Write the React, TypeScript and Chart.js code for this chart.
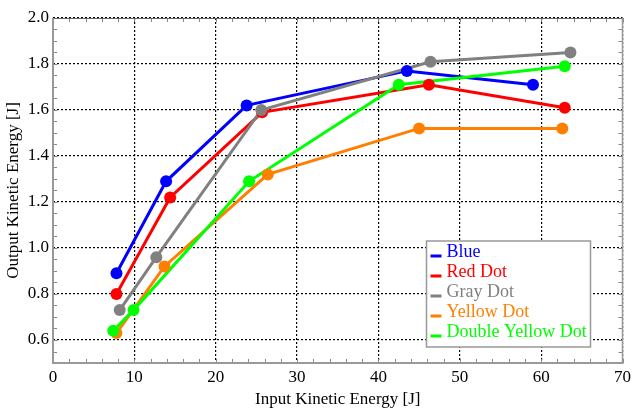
import React, { useEffect, useRef } from "react";
import { Chart, registerables } from "chart.js";

Chart.register(...registerables);

const seriesNames = ["Blue", "Red Dot", "Gray Dot", "Yellow Dot", "Double Yellow Dot"];
const seriesColors = ["#0000ff", "#ff0000", "#808080", "#ff8000", "#00ff00"];

const blueX = [7.8, 13.9, 23.8, 43.5, 59.0];
const blueY = [0.89, 1.29, 1.62, 1.77, 1.71];
const redX = [7.8, 14.4, 25.7, 46.2, 62.9];
const redY = [0.8, 1.22, 1.59, 1.71, 1.61];
const grayX = [8.2, 12.7, 25.6, 46.4, 63.6];
const grayY = [0.73, 0.96, 1.6, 1.81, 1.85];
const yellowX = [7.8, 13.7, 26.4, 45.0, 62.6];
const yellowY = [0.63, 0.92, 1.32, 1.52, 1.52];
const doubleX = [7.4, 9.9, 24.1, 42.5, 62.9];
const doubleY = [0.64, 0.73, 1.29, 1.71, 1.79];

const xTicks = [0, 10, 20, 30, 40, 50, 60, 70];
const yTicks = [0.6, 0.8, 1.0, 1.2, 1.4, 1.6, 1.8, 2.0];
const xMinorStep = 2;
const yMinorStep = 0.05;
const xMin = 0, xMax = 70, yMin = 0.5, yMax = 2.0;

const FONT = "'Liberation Serif', 'Times New Roman', serif";

const allX = [blueX, redX, grayX, yellowX, doubleX];
const allY = [blueY, redY, grayY, yellowY, doubleY];

const framePlugin = {
  id: "framePlugin",
  afterDatasetsDraw(chart: any) {
    const { ctx, chartArea: a, scales } = chart;
    const xs = scales.x, ys = scales.y;
    ctx.save();
    ctx.strokeStyle = "#888";
    ctx.lineWidth = 1;
    const tl = 4;
    ctx.beginPath();
    for (let v = xMin; v <= xMax + 1e-9; v += xMinorStep) {
      const px = Math.round(xs.getPixelForValue(v)) + 0.5;
      ctx.moveTo(px, a.bottom); ctx.lineTo(px, a.bottom - tl);
      ctx.moveTo(px, a.top); ctx.lineTo(px, a.top + tl);
    }
    for (let v = yMin; v <= yMax + 1e-9; v += yMinorStep) {
      const py = Math.round(ys.getPixelForValue(v)) + 0.5;
      ctx.moveTo(a.left, py); ctx.lineTo(a.left + tl, py);
      ctx.moveTo(a.right, py); ctx.lineTo(a.right - tl, py);
    }
    ctx.stroke();
    ctx.strokeStyle = "#666";
    ctx.lineWidth = 1;
    ctx.beginPath();
    ctx.moveTo(a.left, a.top + 0.5); ctx.lineTo(a.right, a.top + 0.5);
    ctx.stroke();
    ctx.strokeStyle = "#999";
    ctx.lineWidth = 1.5;
    ctx.beginPath();
    ctx.moveTo(a.right, a.top); ctx.lineTo(a.right, a.bottom);
    ctx.stroke();
    ctx.strokeStyle = "#999";
    ctx.lineWidth = 2;
    ctx.beginPath();
    ctx.moveTo(a.left, a.top); ctx.lineTo(a.left, a.bottom); ctx.lineTo(a.right + 1, a.bottom);
    ctx.stroke();
    ctx.restore();
  },
  afterDraw(chart: any) {
    const { ctx, chartArea: a } = chart;
    ctx.save();
    const w = 164, h = 106;
    const x0 = a.right - 196, y0 = a.bottom - 122;
    ctx.fillStyle = "#fff";
    ctx.fillRect(x0, y0, w, h);
    ctx.strokeStyle = "#999";
    ctx.lineWidth = 1.5;
    ctx.strokeRect(x0, y0, w, h);
    ctx.font = `18px ${FONT}`;
    ctx.textBaseline = "middle";
    ctx.textAlign = "left";
    seriesNames.forEach((name, i) => {
      const cy = y0 + 11.5 + i * 20;
      ctx.fillStyle = seriesColors[i];
      ctx.fillRect(x0 + 4, cy + 2, 11, 3);
      ctx.fillText(name, x0 + 20, cy);
    });
    ctx.restore();
  },
};

export default function App() {
  const ref = useRef<HTMLCanvasElement | null>(null);
  useEffect(() => {
    if (!ref.current) return;
    const lineSets = seriesNames.map((name, i) => ({
      label: name,
      data: allX[i].map((x, j) => ({ x, y: allY[i][j] })),
      borderColor: seriesColors[i],
      backgroundColor: seriesColors[i],
      borderWidth: 3,
      pointRadius: 0,
      showLine: true,
      order: 10 - i,
    }));
    const pointSets = seriesNames.map((name, i) => ({
      label: name + " pts",
      data: allX[i].map((x, j) => ({ x, y: allY[i][j] })),
      borderColor: seriesColors[i],
      backgroundColor: seriesColors[i],
      borderWidth: 0,
      pointRadius: 6,
      showLine: false,
      order: 5 - i,
    }));
    const chart = new Chart(ref.current, {
      type: "scatter",
      data: { datasets: [...lineSets, ...pointSets] as any },
      options: {
        animation: false,
        responsive: false,
        layout: { padding: { left: 0, top: 18, right: 9, bottom: 0 } },
        plugins: { legend: { display: false }, tooltip: { enabled: false } },
        scales: {
          x: {
            type: "linear",
            min: xMin,
            max: xMax,
            afterBuildTicks: (s: any) => { s.ticks = xTicks.map((v) => ({ value: v })); },
            afterFit: (s: any) => { s.height = 49; },
            ticks: { color: "#000", font: { family: FONT, size: 17 }, padding: 4, maxRotation: 0, callback: (v: any) => String(v) },
            grid: { color: "#000", lineWidth: 1.2, drawTicks: false },
            border: { display: false, dash: [2, 2] },
            title: { display: true, text: "Input Kinetic Energy [J]", color: "#000", font: { family: FONT, size: 17 }, padding: { top: 2, bottom: 2 } },
          },
          y: {
            type: "linear",
            min: yMin,
            max: yMax,
            afterBuildTicks: (s: any) => { s.ticks = yTicks.map((v) => ({ value: v })); },
            afterFit: (s: any) => { s.width = 53; },
            ticks: { color: "#000", font: { family: FONT, size: 17 }, padding: 4, callback: (v: any) => Number(v).toFixed(1) },
            grid: { color: "#000", lineWidth: 1.2, drawTicks: false },
            border: { display: false, dash: [2, 2] },
            title: { display: true, text: "Output Kinetic Energy [J]", color: "#000", font: { family: FONT, size: 17 }, padding: { top: 3, bottom: 3 } },
          },
        },
      },
      plugins: [framePlugin],
    });
    return () => chart.destroy();
  }, []);
  return (
    <div style={{ position: "absolute", left: 0, top: 0, width: 635, height: 412, background: "#fff" }}>
      <canvas ref={ref} width={635} height={412} />
    </div>
  );
}
